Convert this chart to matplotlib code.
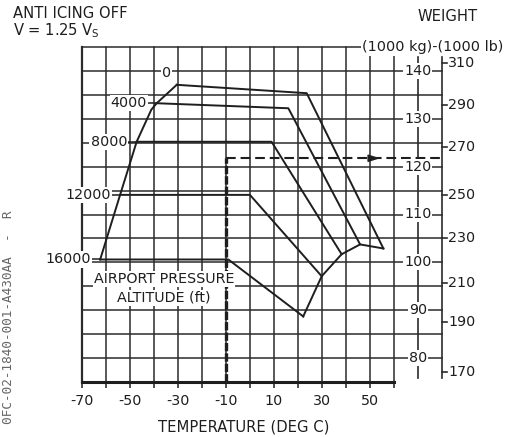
import matplotlib
matplotlib.use('Agg')
import matplotlib.pyplot as plt

plt.rcParams['font.family'] = ['DejaVu Sans']
plt.rcParams['lines.scale_dashes'] = False

# ---------------- data ----------------
altitudes = ['0', '4000', '8000', '12000', '16000']
# start of each altitude line (on the left envelope)
start_T = [-30.4, -38.75, -47.1, -54.0, -62.3]
start_W = [137.1, 133.25, 125.2, 114.1, 100.6]
# knee where the flat part ends
knee_T = [23.75, 16.1, 9.1, 0.1, -8.9]
knee_W = [135.35, 132.2, 125.2, 114.1, 100.6]
# end of each descending part (on the right envelope)
end_T = [55.7, 46.0, 38.3, 30.0, 22.3]
end_W = [102.9, 103.75, 101.7, 97.1, 88.7]
# left envelope
env_left_T = [-62.3, -54.0, -47.1, -41.0, -38.75, -30.4]
env_left_W = [100.6, 114.1, 125.2, 131.9, 133.25, 137.1]
# example (dashed)
example_T = -10
example_W = 121.75
# axes ticks
xtick_major = [-70, -50, -30, -10, 10, 30, 50]
xtick_minor = [-60, -40, -20, 0, 20, 40, 60]
kg_ticks = [80, 90, 100, 110, 120, 130, 140]
lb_labels = [170, 190, 210, 230, 250, 270, 290, 310]
lb_pos_kg = [77.09, 87.48, 95.63, 105.03, 114.08, 124.17, 132.88, 141.66]

# ---------------- layout ----------------
ink = '#1e1e1e'
gridc = '#2b2b2b'
fs = 10.3

fig = plt.figure(figsize=(5.06, 4.37), dpi=100)
fig.patch.set_facecolor('white')
ax = fig.add_axes([81.7 / 506, 55 / 437, 360 / 506, 335 / 437])
ax.set_xlim(-70, 80)
ax.set_ylim(75, 145)
for s in ax.spines.values():
    s.set_visible(False)
ax.set_yticks([])
ax.set_xticks(xtick_major, labels=[str(v) for v in xtick_major])
ax.set_xticks(xtick_minor, minor=True)
ax.tick_params(axis='x', which='both', direction='out', length=4, width=1.1,
               color=ink, pad=4.5, labelsize=fs, labelcolor=ink)

# grid
for t in range(-70, 61, 10):
    ax.plot([t, t], [75, 145], color=gridc, lw=1.6 if t == -70 else 1.1,
            zorder=1, clip_on=False)
for w in range(80, 146, 5):
    ax.plot([-70, 80], [w, w], color=gridc, lw=1.1, zorder=1, clip_on=False)
ax.plot([-70, 60], [75, 75], color=ink, lw=2.2, zorder=2, clip_on=False)

# weight scales
ax.plot([70, 70], [75.8, 142.9], color=gridc, lw=1.2, zorder=1, clip_on=False)
ax.plot([80, 80], [75.8, 142.9], color=gridc, lw=1.2, zorder=1, clip_on=False)
for w in kg_ticks:
    ax.text(70, w, str(w), ha='center', va='center', fontsize=fs, color=ink,
            zorder=6, bbox=dict(fc='white', ec='none', pad=0.6))
for lb, p in zip(lb_labels, lb_pos_kg):
    ax.plot([80, 82.2], [p, p], color=gridc, lw=1.2, zorder=2, clip_on=False)
    ax.text(82.8, p, str(lb), ha='left', va='center', fontsize=fs, color=ink,
            zorder=6)

# altitude curves
for i, alt in enumerate(altitudes):
    ax.plot([start_T[i], knee_T[i], end_T[i]], [start_W[i], knee_W[i], end_W[i]],
            color=ink, lw=1.4, zorder=3, clip_on=False)
ax.plot(env_left_T, env_left_W, color=ink, lw=1.4, zorder=3)
ax.plot(end_T[::-1], end_W[::-1], color=ink, lw=1.4, zorder=3)

# altitude labels
for i, alt in enumerate(altitudes):
    if alt == '0':
        ax.text(start_T[i] - 4.2, start_W[i] + 2.5, alt, ha='center', va='center',
                fontsize=fs, color=ink, zorder=6,
                bbox=dict(fc='white', ec='none', pad=0.8))
    else:
        ax.plot([start_T[i] - 4.2, start_T[i]], [start_W[i], start_W[i]],
                color=ink, lw=1.1, zorder=3, clip_on=False)
        ax.text(start_T[i] - 4.0, start_W[i], alt, ha='right', va='center',
                fontsize=fs, color=ink, zorder=6,
                bbox=dict(fc='white', ec='none', pad=0.8))

ax.text(-35.7, 96.53, 'AIRPORT PRESSURE', ha='center', va='center', fontsize=fs,
        color=ink, zorder=6, bbox=dict(fc='white', ec='none', pad=0.8))
ax.text(-35.7, 92.56, 'ALTITUDE (ft)', ha='center', va='center', fontsize=fs,
        color=ink, zorder=6, bbox=dict(fc='white', ec='none', pad=0.8))

# example dashed line
ax.plot([example_T, example_T], [75, example_W], color=ink, lw=2.4,
        dashes=(6, 1.5), zorder=4)
ax.plot([example_T, 80], [example_W, example_W], color=ink, lw=1.5,
        dashes=(7, 3.5), zorder=4, clip_on=False)
ax.annotate('', xy=(55.5, example_W), xytext=(50.5, example_W),
            arrowprops=dict(arrowstyle='-|>,head_length=0.7,head_width=0.22',
                            color=ink, lw=1.0, mutation_scale=10), zorder=5)

# header / footer texts
fig.text(13 / 506, 1 - 14 / 437, 'ANTI ICING OFF', ha='left', va='center',
         fontsize=10.6, color=ink)
fig.text(13 / 506, 1 - 31 / 437, r'V = 1.25 V$_\mathregular{S}$', ha='left', va='center',
         fontsize=10.6, color=ink)
fig.text(447.5 / 506, 1 - 16.5 / 437, 'WEIGHT', ha='center', va='center',
         fontsize=10.6, color=ink)
fig.text(433 / 506, 1 - 47.5 / 437, '(1000 kg)-(1000 lb)', ha='center', va='center',
         fontsize=10.4, color=ink, zorder=10,
         bbox=dict(fc='white', ec='none', pad=1.2))
fig.text(243.5 / 506, 1 - 426.5 / 437, 'TEMPERATURE (DEG C)', ha='center', va='center',
         fontsize=10.6, color=ink)
fig.text(8.5 / 506, 1 - 317 / 437, '0FC-02-1840-001-A430AA  -  R', rotation=90,
         ha='center', va='center', fontsize=9.2, family='DejaVu Sans Mono',
         color='#666666')

fig.savefig('out.png', dpi=100)
